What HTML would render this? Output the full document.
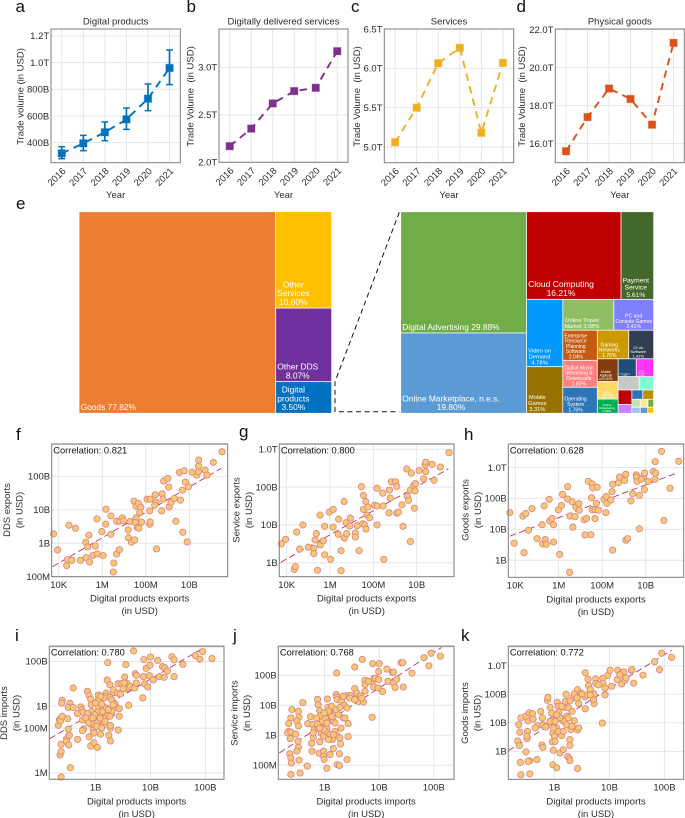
<!DOCTYPE html>
<html lang="en">
<head>
<meta charset="utf-8">
<title>Digital products trade figure</title>
<style>
html,body{margin:0;padding:0;background:#fff;}
svg{display:block;font-family:"Liberation Sans",Arial,sans-serif;}
text{white-space:pre;}
</style>
</head>
<body>
<svg id="fig" width="685" height="818" viewBox="0 0 685 818" xmlns="http://www.w3.org/2000/svg"></svg>
<script>
/* ---------- line panels: years and trade volumes ---------- */
const years = [2016,2017,2018,2019,2020,2021];
const digitalValues = [320,395,478,575,730,960];
const digitalLow = [280,340,415,500,640,835];
const digitalHigh = [370,455,555,660,840,1095];
const ddsValues = [2.17,2.355,2.62,2.75,2.785,3.17];
const serviceValues = [5.06,5.5,6.065,6.26,5.18,6.07];
const goodsValues = [15.6,17.4,18.9,18.35,17.0,21.3];
const digitalTicks = [400,600,800,1000,1200];
const digitalTickLabels = ['400B','600B','800B','1.0T','1.2T'];
const ddsTicks = [2,2.5,3];
const ddsTickLabels = ['2.0T','2.5T','3.0T'];
const serviceTicks = [5,5.5,6,6.5];
const serviceTickLabels = ['5.0T','5.5T','6.0T','6.5T'];
const goodsTicks = [16,18,20,22];
const goodsTickLabels = ['16.0T','18.0T','20.0T','22.0T'];

/* ---------- treemap values ---------- */
const leftShares = [77.82,10.60,8.07,3.50];
const leftColors = ['#ED7D31','#FFC000','#7030A0','#0070C0'];
const leftLabels = [['Goods 77.82%'],['Other','Services','10.60%'],['Other DDS','8.07%'],['Digital','products','3.50%']];
const leftFontSizes = [8.4,8.4,8.4,8.4];
const leftTree = ['r',0,['c',1,2,3]];

const rightShares = [29.88,19.80,16.21,5.61,4.78,3.31,3.08,2.41,2.04,1.82,1.76,1.76,1.40,0.92,0.72,0.58,0.63,0.61,0.55,0.38,0.39,0.24,0.20,0.20,0.13,0.10,0.12,0.09,0.09,0.07];
const rightColors = ['#70AD47','#5B9BD5','#C00000','#43682B','#0097FF','#997300','#8FBF62','#7F7FFF','#C55A11','#FF8080','#2E75B6','#CC9900','#333F50','#843C0C','#FFD966','#00B050','#1F4E79','#FF33FF','#C8C8C8','#7FFFD4','#C00000','#CC80FF','#2E75B6','#BF9000','#C5E0B4','#9DC3E6','#FFE699','#70AD47','#5B9BD5','#FFC000'];
const rightLabels = [['Digital Advertising 29.88%'],['Online Marketplace, n.e.s.','19.80%'],['Cloud Computing','16.21%'],['Payment','Service','5.61%'],['Video on','Demand','4.78%'],['Mobile','Games','3.31%'],['Online Travel','Market 3.08%'],['PC and','Console Games','2.41%'],['Enterprise','Resource','Planning','Software','2.04%'],['Digital Music','Streaming &','Downloads','1.82%'],['Operating','System','1.76%'],['Gaming','Networks','1.76%'],['OI os','Software','1.42%'],['Mobile','Applicati','on 0.92%'],['Internet','Streaming','Service 0.72%'],['Online','Ridesharing','0.58%'],['Other software','0.63%'],['Other','Services','0.61%'],[],[],[],[],[],[],[],[],[],[],[],[]];
const rightFontSizes = [8.4,8.4,8.5,6.7,5.8,5.7,5.7,5.1,5,5.1,5.1,5,4,3.3,2.5,3,1.6,2,2,2,2,2,2,2,2,2,2,2,2,2];
const rightTree = ['r',['c',0,1],['c',['r',2,3],['r',['c',4,5],['c',['r',6,7],['r',['c',8,9,10],['c',['r',11,12],['r',['c',13,14,15],['c',['r',16,17],['r',18,19],['r',['c',20,21],['c',['r',22,23],['r',['c',24,25],['c',['r',26,27],['r',28,29]]]]]]]]]]]]];

/* ---------- scatter panels: values are log10 of USD ---------- */
const fLogX = [3.77,3.95,4.37,4.40,4.61,4.47,4.77,5.00,5.26,5.42,5.58,5.78,6.04,5.24,5.38,5.33,5.68,5.76,5.98,6.16,6.17,6.40,6.40,6.53,6.51,6.66,6.79,6.66,6.79,6.92,6.97,7.19,7.20,7.34,7.49,7.28,7.55,7.46,7.55,7.66,7.77,7.72,7.52,7.81,7.61,7.68,8.18,8.20,8.18,8.06,8.20,8.43,8.47,8.41,8.49,8.75,8.73,8.79,8.82,9.01,9.05,9.07,9.16,9.31,9.38,9.54,9.76,9.59,9.70,9.90,9.68,9.82,9.96,10.34,10.42,10.42,10.43,10.72,10.81,11.10,11.50,10.13];
const fLogY = [9.28,8.80,8.33,8.51,8.49,9.54,9.45,8.49,8.57,8.44,8.64,8.68,8.63,9.03,9.24,8.89,8.92,9.73,9.35,9.57,10.02,9.82,9.27,8.41,8.14,8.68,8.81,9.66,9.66,9.76,9.67,9.40,9.17,9.03,9.10,9.65,9.76,10.26,10.11,10.19,10.08,9.92,9.62,9.63,9.47,9.45,9.57,9.64,9.97,10.32,10.32,10.45,10.23,10.14,8.83,10.48,9.97,10.32,10.86,10.94,10.68,10.09,10.22,10.34,9.66,11.12,11.17,10.29,9.33,9.04,10.59,10.83,10.69,11.04,11.14,11.31,11.49,11.19,11.04,11.42,11.74,11.13];
const fTrendX = [3.72,11.46];
const fTrendY = [8.30,11.24];

const gLogX = [3.75,3.95,4.35,4.40,4.46,4.60,4.75,5.00,5.25,5.25,5.31,5.37,5.42,5.54,5.55,5.69,5.75,5.75,5.97,6.03,6.14,6.15,6.40,6.38,6.51,6.51,6.65,6.66,6.74,6.77,6.94,6.91,7.17,7.17,7.26,7.34,7.45,7.51,7.54,7.54,7.60,7.65,7.66,7.71,7.75,7.82,8.06,8.17,8.17,8.17,8.43,8.45,8.48,8.72,8.74,8.78,8.83,9.02,9.08,9.08,9.15,9.32,9.37,9.54,9.57,9.62,9.71,9.75,9.71,9.86,9.89,9.92,9.94,10.11,10.32,10.38,10.42,10.42,10.71,10.80,11.09,11.49];
const gLogY = [9.50,9.62,8.82,8.90,9.81,9.36,10.00,9.41,9.38,9.24,9.60,9.77,8.80,10.26,9.47,9.58,9.96,9.21,10.34,9.09,9.94,10.41,10.15,9.75,8.79,9.32,10.62,9.65,10.06,9.77,10.18,9.97,9.79,9.68,9.98,9.32,11.01,10.03,10.78,10.41,10.00,10.62,9.89,10.26,10.47,10.19,10.52,10.50,10.97,10.00,10.84,10.50,9.09,10.32,10.92,10.71,11.14,11.14,11.02,10.31,10.34,10.53,9.96,11.48,10.75,10.65,9.56,11.37,10.92,11.04,10.44,10.90,11.09,11.44,11.22,11.58,11.66,11.41,11.60,11.18,11.53,11.91];
const gTrendX = [3.72,11.46];
const gTrendY = [9.01,11.48];

const hLogX = [3.75,3.95,4.35,4.40,4.48,4.61,4.77,5.00,5.24,5.26,5.33,5.38,5.43,5.56,5.58,5.69,5.76,5.76,5.98,6.04,6.13,6.18,6.41,6.41,6.50,6.52,6.62,6.65,6.75,6.79,6.93,6.94,7.17,7.21,7.28,7.36,7.48,7.51,7.54,7.56,7.54,7.67,7.67,7.77,7.73,7.82,8.08,8.17,8.19,8.22,8.40,8.45,8.48,8.48,8.75,8.79,9.03,9.08,9.09,9.17,9.32,9.40,9.57,9.58,9.61,9.71,9.71,9.90,9.80,9.95,9.94,10.12,10.35,10.44,10.43,10.46,10.73,10.84,11.12,11.52];
const hLogY = [10.54,9.55,10.43,9.25,10.51,9.97,10.67,9.70,10.15,9.53,10.76,9.67,9.52,10.97,10.27,10.35,10.15,9.59,10.63,9.19,10.77,11.13,10.98,11.38,8.61,10.43,10.89,10.07,10.41,10.72,10.83,10.62,10.31,9.82,10.35,11.55,9.83,11.02,11.47,11.34,10.64,10.35,10.64,11.36,10.84,10.62,10.97,10.54,11.06,10.84,10.95,11.22,11.46,9.33,11.51,11.69,11.58,11.78,9.65,9.70,10.92,11.15,11.76,11.69,11.55,10.02,11.10,11.69,11.62,11.82,11.28,11.55,11.87,12.19,11.62,11.82,12.52,10.29,11.33,12.20];
const hTrendX = [3.75,11.50];
const hTrendY = [9.78,11.84];

const iLogX = [8.32,8.34,8.36,8.39,8.39,8.38,8.53,8.50,8.59,8.49,8.50,8.51,8.47,8.52,8.47,8.37,8.51,8.35,8.37,8.37,8.54,8.59,8.67,8.67,8.73,8.75,8.77,8.76,8.78,8.76,8.85,8.88,8.91,8.92,8.93,8.91,8.96,8.96,8.88,8.91,8.97,9.03,9.09,9.01,9.05,9.08,9.05,9.05,9.05,9.05,9.13,9.13,9.12,9.14,9.19,9.18,9.21,9.22,9.26,9.26,9.24,9.27,9.27,9.27,9.19,9.23,9.29,9.30,9.33,9.35,9.38,9.43,9.43,9.41,9.41,9.47,9.55,9.53,9.57,9.60,9.56,9.60,9.63,9.71,9.74,9.72,9.74,9.86,9.88,9.87,9.89,9.92,9.95,9.99,10.00,9.98,10.05,10.13,10.16,10.22,10.26,10.25,10.31,10.39,10.43,10.43,10.59,10.82,10.90,10.95,11.12,9.69,8.98,8.95,9.03,8.85,9.11,9.15,9.00,9.09,9.20,9.29,9.32,9.40,9.50,9.45,9.52,8.97,9.08,9.17,9.23,9.26,9.32,8.82,8.87,9.02,9.11];
const iLogY = [8.13,8.39,8.34,8.54,9.25,9.13,9.12,8.94,8.93,8.43,7.97,7.67,7.53,7.68,7.41,7.28,7.25,6.80,6.95,5.81,6.23,9.81,8.66,7.50,8.96,8.84,8.72,8.37,7.97,7.89,9.66,9.48,9.30,9.06,8.75,8.19,8.19,7.91,7.62,7.20,7.35,7.14,7.73,8.57,8.54,8.60,8.78,8.99,9.28,9.49,8.99,8.76,8.42,8.13,9.58,9.45,10.17,10.95,9.96,9.39,7.68,7.43,8.01,8.13,8.49,8.61,8.64,8.76,9.60,9.10,8.94,8.88,8.54,7.92,10.00,10.00,10.86,10.30,10.02,9.03,9.76,9.81,9.88,9.81,10.03,10.45,10.38,9.36,11.08,10.32,9.99,10.69,9.85,10.83,11.20,10.36,10.17,11.05,10.32,10.77,10.72,10.29,10.57,11.22,11.07,10.32,10.87,11.26,11.10,11.44,11.13,11.47,8.61,8.46,8.24,8.66,9.09,9.36,9.13,9.43,8.91,9.28,9.73,9.58,9.78,9.54,10.03,7.79,8.46,8.31,8.84,8.54,9.06,8.46,8.24,8.09,8.01];
const iTrendX = [8.16,10.98];
const iTrendY = [7.53,11.63];

const jLogX = [8.40,8.38,8.34,8.34,8.32,8.38,8.37,8.47,8.52,8.53,8.49,8.52,8.60,8.51,8.52,8.49,8.36,8.38,8.39,8.38,8.53,8.55,8.68,8.74,8.69,8.78,8.81,8.79,8.76,8.77,8.87,8.88,8.91,8.93,8.96,8.94,8.91,8.90,8.98,8.98,8.99,9.04,9.05,9.06,9.10,9.07,9.02,8.98,9.04,9.04,9.14,9.16,9.10,9.21,9.22,9.23,9.22,9.19,9.31,9.36,9.41,9.34,9.30,9.19,9.22,9.28,9.29,9.27,9.23,9.27,9.41,9.43,9.43,9.41,9.48,9.55,9.55,9.57,9.59,9.62,9.65,9.71,9.74,9.74,9.74,9.87,9.88,9.87,9.90,9.93,9.90,10.00,9.99,9.99,9.98,10.06,10.14,10.16,10.24,10.26,10.26,10.29,10.32,10.40,10.43,10.44,10.60,10.82,10.91,10.95,11.12,9.69,8.85,8.88,9.01,9.07,9.13,9.16,8.87,8.98,9.10,9.19,9.25,9.37,9.13,9.21,9.28,8.99,9.13,9.04,9.16,9.07,8.79,8.91,9.34,9.46,9.55,9.80,9.68];
const jLogY = [9.86,9.58,9.39,9.13,9.08,9.11,8.89,9.04,9.80,9.60,9.47,9.31,10.09,8.80,8.60,8.47,8.38,8.24,8.07,7.69,8.17,7.74,7.97,9.62,9.39,9.36,9.19,8.93,8.73,8.47,10.20,10.02,9.82,9.66,9.47,9.06,8.78,8.40,8.47,8.30,8.19,7.90,10.21,9.93,9.69,9.47,9.30,8.97,9.24,9.11,8.86,8.56,8.36,10.36,10.27,10.19,11.08,9.86,10.13,10.00,9.91,9.58,9.24,9.13,9.00,8.91,8.71,8.38,8.02,7.99,8.19,8.96,9.39,10.32,10.33,11.28,10.56,10.27,10.41,10.13,10.31,10.11,10.84,10.69,10.47,9.60,11.39,10.77,10.89,10.91,10.61,11.39,11.13,10.86,10.58,10.46,11.21,10.80,11.10,11.11,10.74,10.59,10.87,11.42,11.42,10.61,11.07,11.59,11.32,11.74,11.64,11.53,9.58,9.24,9.58,9.80,9.58,9.47,9.36,9.19,9.02,9.41,9.69,9.58,9.97,9.86,9.93,9.74,9.63,9.41,9.02,8.86,9.08,9.24,10.30,10.24,10.19,10.80,10.24];
const jTrendX = [8.17,11.14];
const jTrendY = [8.41,11.93];

const kLogX = [8.33,8.35,8.39,8.37,8.36,8.38,8.39,8.48,8.51,8.50,8.52,8.48,8.54,8.60,8.61,8.55,8.52,8.55,8.68,8.69,8.75,8.77,8.79,8.78,8.79,8.87,8.88,8.92,8.95,8.96,8.98,8.96,8.98,8.97,9.04,8.97,9.00,9.01,9.04,9.05,9.07,9.08,9.10,9.13,9.16,9.15,9.21,9.20,9.18,9.22,9.24,9.27,9.28,9.28,9.28,9.30,9.26,9.32,9.33,9.36,9.42,9.44,9.42,9.42,9.44,9.36,9.48,9.56,9.56,9.55,9.59,9.62,9.61,9.65,9.72,9.71,9.72,9.75,9.75,9.87,9.88,9.88,9.92,9.92,9.97,10.01,10.04,10.15,10.14,10.22,10.22,10.26,10.28,10.30,10.40,10.44,10.61,10.82,10.91,10.95,11.13,8.89,8.92,9.01,9.10,9.19,9.25,9.13,9.28,9.41,9.04,8.84,8.65,9.07,9.16,9.22,9.32,8.98,8.50,9.50,9.65,9.80,10.41,10.19];
const kLogY = [9.36,9.93,10.17,9.67,9.20,8.61,8.18,8.98,9.70,9.44,10.07,10.23,10.35,10.32,10.13,8.67,8.65,8.21,8.71,9.90,10.40,9.22,9.14,10.17,9.92,10.79,10.89,10.54,10.34,10.10,9.93,9.33,9.04,8.53,8.42,9.64,9.53,9.35,9.82,10.72,10.58,10.37,8.94,9.55,9.06,10.07,11.00,10.75,10.54,10.23,8.82,8.74,8.67,9.21,9.41,9.76,10.52,10.40,10.87,10.07,9.75,9.82,8.40,11.16,10.68,11.01,11.04,11.75,10.49,10.91,10.98,11.30,11.53,11.16,10.67,10.81,11.01,11.54,11.38,9.99,11.56,11.39,10.98,11.22,11.66,11.84,11.28,11.84,11.51,11.36,11.74,11.78,11.49,11.57,11.84,11.39,11.67,12.14,11.86,12.44,12.29,9.93,10.05,10.05,10.17,10.05,10.17,10.58,10.77,10.87,10.28,9.85,9.82,9.70,9.70,9.93,9.88,9.82,9.53,11.01,10.98,11.33,11.86,11.68];
const kTrendX = [8.16,11.13];
const kTrendY = [9.02,12.54];

const exportXTicks = [4,6,8,10];
const exportXLabels = ['10K','1M','100M','10B'];
const importXTicks = [9,10,11];
const importXLabels = ['1B','10B','100B'];
const fYTicks = [8,9,10,11];
const fYLabels = ['100M','1B','10B','100B'];
const ghYTicks = [9,10,11,12];
const ghYLabels = ['1B','10B','100B','1.0T'];
const iYTicks = [6,8,9,11];
const iYLabels = ['1M','100M','1B','100B'];
const jYTicks = [8,9,10,11];
const jYLabels = ['100M','1B','10B','100B'];
const kYTicks = [9,10,11,12];
const kYLabels = ['1B','10B','100B','1.0T'];

/* ---------- drawing helpers ---------- */
const NS = 'http://www.w3.org/2000/svg';
const root = document.getElementById('fig');
const TEXT = '#2b2b2b', FRAME = '#7d7d7d', GRID = '#e6e6e6';

function add(parent, tag, props, name, content) {
  const el = document.createElementNS(NS, tag);
  for (const k in props) el.setAttribute(k, props[k]);
  
  
  if (content !== undefined) el.textContent = content;
  parent.appendChild(el);
  return el;
}
function scale(d0, d1, r0, r1) {
  return function (v) { return r0 + (v - d0) / (d1 - d0) * (r1 - r0); };
}
function label(parent, x, y, str, size, anchor, name, rotate, fill) {
  const props = {x: x, y: y, 'font-size': size, 'text-anchor': anchor, fill: fill || TEXT};
  if (rotate) props.transform = 'rotate(' + rotate + ' ' + x + ' ' + y + ')';
  return add(parent, 'text', props, name, str);
}
function frameAndGrid(g, box, sx, sy, xTicks, yTicks) {
  xTicks.forEach(function (t) {
    add(g, 'line', {x1: sx(t), x2: sx(t), y1: box.y0, y2: box.y1, stroke: GRID, 'stroke-width': 1}, 'vertical-gridline');
  });
  yTicks.forEach(function (t) {
    add(g, 'line', {x1: box.x0, x2: box.x1, y1: sy(t), y2: sy(t), stroke: GRID, 'stroke-width': 1}, 'horizontal-gridline');
  });
}
function frameOnTop(g, box, topW) {
  add(g, 'rect', {x: box.x0, y: box.y0, width: box.x1 - box.x0, height: box.y1 - box.y0, fill: 'none', stroke: FRAME, 'stroke-width': 1}, 'plot-frame');
  if (topW) add(g, 'line', {x1: box.x0, x2: box.x1, y1: box.y0, y2: box.y0, stroke: '#9a9a9a', 'stroke-width': topW}, 'plot-frame-top');
}

/* ---------- line panels ---------- */
function linePanel(opt) {
  const g = add(root, 'g', {}, 'panel-' + opt.letter);
  const box = opt.box;
  const sx = scale(2015.5, 2021.5, box.x0, box.x1);
  const sy = scale(opt.yDomain[0], opt.yDomain[1], box.y1, box.y0);
  frameAndGrid(g, box, sx, sy, years, opt.ticks);
  years.forEach(function (yr) {
    label(g, sx(yr) + 4.6, box.y1 + 9, String(yr), 9.5, 'end', 'x-tick-label-' + yr, -45);
  });
  opt.ticks.forEach(function (t, i) {
    label(g, box.x0 - 1.8, sy(t) + 3.3, opt.tickLabels[i], 9.5, 'end', 'y-tick-label');
  });
  label(g, (box.x0 + box.x1) / 2, 24.5, opt.title, 9.5, 'middle', 'panel-title');
  label(g, (box.x0 + box.x1) / 2, 198, 'Year', 9.5, 'middle', 'x-axis-title');
  label(g, opt.yTitleX, 96.5, opt.yTitle, 9.5, 'middle', 'y-axis-title', -90);
  label(g, opt.letterX, 12, opt.letter, 17, 'start', 'panel-letter', 0, '#111');
  const pts = opt.values.map(function (v, i) { return sx(years[i]) + ',' + sy(v); }).join(' ');
  add(g, 'polyline', {points: pts, fill: 'none', stroke: opt.color, 'stroke-width': 1.9, 'stroke-dasharray': '7.5 5.5'}, 'trend-line');
  if (opt.low) {
    opt.low.forEach(function (lo, i) {
      const x = sx(years[i]);
      add(g, 'line', {x1: x, x2: x, y1: sy(lo), y2: sy(opt.high[i]), stroke: opt.color, 'stroke-width': 1.7}, 'error-bar');
      add(g, 'line', {x1: x - 3.4, x2: x + 3.4, y1: sy(lo), y2: sy(lo), stroke: opt.color, 'stroke-width': 1.5}, 'error-cap-low');
      add(g, 'line', {x1: x - 3.4, x2: x + 3.4, y1: sy(opt.high[i]), y2: sy(opt.high[i]), stroke: opt.color, 'stroke-width': 1.5}, 'error-cap-high');
    });
  }
  opt.values.forEach(function (v, i) {
    add(g, 'rect', {x: sx(years[i]) - 3.7, y: sy(v) - 3.7, width: 7.4, height: 7.4, fill: opt.color, stroke: opt.color, 'stroke-opacity': 0.35, 'stroke-width': 1}, 'point-' + years[i]);
  });
  frameOnTop(g, box);
}
linePanel({letter: 'a', letterX: 15.5, box: {x0: 51, x1: 180.3, y0: 29, y1: 162.7}, yDomain: [250, 1252], ticks: digitalTicks, tickLabels: digitalTickLabels, values: digitalValues, low: digitalLow, high: digitalHigh, color: '#0072BD', title: 'Digital products', yTitle: 'Trade volume (in USD)', yTitleX: 23.5});
linePanel({letter: 'b', letterX: 186.5, box: {x0: 219, x1: 348, y0: 29, y1: 162.3}, yDomain: [2.0, 3.404], ticks: ddsTicks, tickLabels: ddsTickLabels, values: ddsValues, color: '#7E2F8E', title: 'Digitally delivered services', yTitle: 'Trade Volume  (in USD)', yTitleX: 193.5});
linePanel({letter: 'c', letterX: 351, box: {x0: 384.3, x1: 513.7, y0: 29, y1: 162.7}, yDomain: [4.8, 6.5], ticks: serviceTicks, tickLabels: serviceTickLabels, values: serviceValues, color: '#EDB120', title: 'Services', yTitle: 'Trade Volume  (in USD)', yTitleX: 360});
linePanel({letter: 'd', letterX: 516.5, box: {x0: 555.3, x1: 684.3, y0: 29, y1: 162.7}, yDomain: [15, 22.03], ticks: goodsTicks, tickLabels: goodsTickLabels, values: goodsValues, color: '#D95319', title: 'Physical goods', yTitle: 'Trade Volume  (in USD)', yTitleX: 525});

/* ---------- treemaps ---------- */
function nodeTotal(node, shares) {
  if (typeof node === 'number') return shares[node];
  return node.slice(1).reduce(function (s, n) { return s + nodeTotal(n, shares); }, 0);
}
function layoutTree(node, rect, shares, out) {
  if (typeof node === 'number') { out.push({i: node, x: rect.x, y: rect.y, w: rect.w, h: rect.h}); return; }
  const horizontal = node[0] === 'r';
  const kids = node.slice(1);
  const total = nodeTotal(node, shares);
  let pos = horizontal ? rect.x : rect.y;
  kids.forEach(function (k) {
    const frac = nodeTotal(k, shares) / total;
    const len = (horizontal ? rect.w : rect.h) * frac;
    layoutTree(k, horizontal ? {x: pos, y: rect.y, w: len, h: rect.h} : {x: rect.x, y: pos, w: rect.w, h: len}, shares, out);
    pos += len;
  });
}
function drawTreemap(parent, tree, shares, colors, labels, sizes, rect, prefix) {
  const cells = [];
  layoutTree(tree, rect, shares, cells);
  cells.forEach(function (c) {
    const cg = add(parent, 'g', {}, prefix + '-cell-' + c.i);
    add(cg, 'rect', {x: c.x + 0.4, y: c.y + 0.4, width: Math.max(c.w - 0.8, 0.2), height: Math.max(c.h - 0.8, 0.2), fill: colors[c.i]}, prefix + '-cell-fill');
    const lines = labels[c.i];
    if (!lines.length) return;
    const fs = sizes[c.i];
    const step = fs * 1.05;
    const nodes = lines.map(function (t, j) {
      return add(cg, 'text', {'font-size': fs, fill: '#fff', 'text-anchor': 'middle', y: c.y + c.h - fs * 0.38 - (lines.length - 1 - j) * step}, prefix + '-cell-label', t);
    });
    const widest = nodes.reduce(function (m, n) { return Math.max(m, n.getComputedTextLength()); }, 0);
    nodes.forEach(function (n) { n.setAttribute('x', c.x + 1.6 + widest / 2); });
  });
}
const treeGroup = add(root, 'g', {}, 'panel-e');
label(treeGroup, 16, 209, 'e', 17, 'start', 'panel-letter', 0, '#111');
drawTreemap(treeGroup, leftTree, leftShares, leftColors, leftLabels, leftFontSizes, {x: 79, y: 211.7, w: 252.7, h: 201.6}, 'trade-share');
drawTreemap(treeGroup, rightTree, rightShares, rightColors, rightLabels, rightFontSizes, {x: 400.7, y: 211.7, w: 253, h: 201.6}, 'digital-share');
add(treeGroup, 'polyline', {points: '399.3,212.3 335,381.7 335,411.7 399.3,411.7', fill: 'none', stroke: '#111', 'stroke-width': 1, 'stroke-dasharray': '5 3.6'}, 'zoom-connector');

/* ---------- scatter panels ---------- */
function scatterPanel(opt) {
  const g = add(root, 'g', {}, 'panel-' + opt.letter);
  const box = opt.box;
  const sx = scale(opt.xDomain[0], opt.xDomain[1], box.x0, box.x1);
  const sy = scale(opt.yDomain[0], opt.yDomain[1], box.y1, box.y0);
  frameAndGrid(g, box, sx, sy, opt.xTicks, opt.yTicks);
  opt.xTicks.forEach(function (t, i) {
    label(g, sx(t), box.y1 + 11.2, opt.xLabels[i], 9.5, 'middle', 'x-tick-label');
  });
  opt.yTicks.forEach(function (t, i) {
    label(g, box.x0 - 1.6, sy(t) + 3.3, opt.yLabels[i], 9.5, 'end', 'y-tick-label');
  });
  const midX = (box.x0 + box.x1) / 2;
  label(g, midX, box.y1 + 25, opt.xTitle, 9.5, 'middle', 'x-axis-title');
  label(g, midX, box.y1 + 37.5, '(in USD)', 9.5, 'middle', 'x-axis-unit');
  label(g, opt.yTitleX, opt.yTitleCy, opt.yTitle, 9.5, 'middle', 'y-axis-title', -90);
  label(g, opt.yTitleX + 12.5, opt.yTitleCy, '(in USD)', 9.5, 'middle', 'y-axis-unit', -90);
  label(g, opt.letterX, opt.letterY, opt.letter, 17, 'start', 'panel-letter', 0, '#111');
  add(g, 'line', {x1: sx(opt.trendX[0]), y1: sy(opt.trendY[0]), x2: sx(opt.trendX[1]), y2: sy(opt.trendY[1]), stroke: '#c5304e', 'stroke-width': 0.9, 'stroke-dasharray': '6.5 3.5'}, 'fit-line');
  opt.xs.forEach(function (x, i) {
    add(g, 'circle', {cx: sx(x), cy: sy(opt.ys[i]), r: 3.15, fill: '#f8c972', stroke: '#da7f88', 'stroke-width': 0.8}, 'country-point');
  });
  frameOnTop(g, box, 1.6);
  label(g, box.x0 + 1.6, box.y0 + 9.3, opt.corr, 9.3, 'start', 'correlation-label', 0, '#111');
}
scatterPanel({letter: 'f', letterX: 16, letterY: 440, box: {x0: 51.7, x1: 227.7, y0: 444, y1: 576.7}, xDomain: [3.68, 11.76], yDomain: [8, 11.97], xTicks: exportXTicks, xLabels: exportXLabels, yTicks: fYTicks, yLabels: fYLabels, xs: fLogX, ys: fLogY, trendX: fTrendX, trendY: fTrendY, corr: 'Correlation: 0.821', xTitle: 'Digital products exports', yTitle: 'DDS exports', yTitleX: 10, yTitleCy: 510});
scatterPanel({letter: 'g', letterX: 239, letterY: 437, box: {x0: 279.3, x1: 454, y0: 444, y1: 576.7}, xDomain: [3.66, 11.72], yDomain: [8.63, 12.14], xTicks: exportXTicks, xLabels: exportXLabels, yTicks: ghYTicks, yLabels: ghYLabels, xs: gLogX, ys: gLogY, trendX: gTrendX, trendY: gTrendY, corr: 'Correlation: 0.800', xTitle: 'Digital products exports', yTitle: 'Service exports', yTitleX: 239.5, yTitleCy: 510});
scatterPanel({letter: 'h', letterX: 464, letterY: 440, box: {x0: 508.3, x1: 683.7, y0: 444, y1: 577.3}, xDomain: [3.68, 11.75], yDomain: [8.45, 12.76], xTicks: exportXTicks, xLabels: exportXLabels, yTicks: ghYTicks, yLabels: ghYLabels, xs: hLogX, ys: hLogY, trendX: hTrendX, trendY: hTrendY, corr: 'Correlation: 0.628', xTitle: 'Digital products exports', yTitle: 'Goods exports', yTitleX: 468.5, yTitleCy: 510});
scatterPanel({letter: 'i', letterX: 15, letterY: 641, box: {x0: 49.3, x1: 224, y0: 646.3, y1: 779.3}, xDomain: [8.155, 11.34], yDomain: [5.71, 11.68], xTicks: importXTicks, xLabels: importXLabels, yTicks: iYTicks, yLabels: iYLabels, xs: iLogX, ys: iLogY, trendX: iTrendX, trendY: iTrendY, corr: 'Correlation: 0.780', xTitle: 'Digital products imports', yTitle: 'DDS imports', yTitleX: 7, yTitleCy: 713});
scatterPanel({letter: 'j', letterX: 233, letterY: 641, box: {x0: 278.3, x1: 454, y0: 646.3, y1: 779.3}, xDomain: [8.15, 11.37], yDomain: [7.53, 11.97], xTicks: importXTicks, xLabels: importXLabels, yTicks: jYTicks, yLabels: jYLabels, xs: jLogX, ys: jLogY, trendX: jTrendX, trendY: jTrendY, corr: 'Correlation: 0.768', xTitle: 'Digital products imports', yTitle: 'Service imports', yTitleX: 237.5, yTitleCy: 713});
scatterPanel({letter: 'k', letterX: 461, letterY: 641, box: {x0: 508.3, x1: 683.7, y0: 646.3, y1: 779.3}, xDomain: [8.16, 11.35], yDomain: [8.02, 12.68], xTicks: importXTicks, xLabels: importXLabels, yTicks: kYTicks, yLabels: kYLabels, xs: kLogX, ys: kLogY, trendX: kTrendX, trendY: kTrendY, corr: 'Correlation: 0.772', xTitle: 'Digital products imports', yTitle: 'Goods imports', yTitleX: 468, yTitleCy: 713});
</script>
</body>
</html>
